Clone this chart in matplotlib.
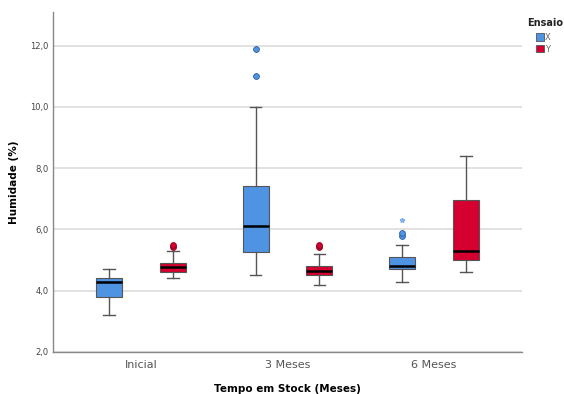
import matplotlib.pyplot as plt
from matplotlib.patches import Patch

# data
categories = ["Inicial", "3 Meses", "6 Meses"]
series = ["X", "Y"]

# (whislo, q1, med, q3, whishi) per category
x_stats = [(3.2, 3.8, 4.3, 4.4, 4.7),
           (4.5, 5.27, 6.1, 7.42, 10.0),
           (4.3, 4.71, 4.8, 5.1, 5.5)]
y_stats = [(4.42, 4.62, 4.78, 4.9, 5.3),
           (4.19, 4.5, 4.65, 4.8, 5.2),
           (4.6, 5.0, 5.3, 6.95, 8.4)]
x_fliers = [[], [11.0, 11.9], [5.8, 5.88]]
y_fliers = [[5.42, 5.5], [5.42, 5.5], []]
x_extremes = [[], [], [6.3]]
y_extremes = [[], [], []]

colors = {"X": "#4f93e3", "Y": "#d5002f"}
edges = {"X": "#2c5d99", "Y": "#8a0020"}

plt.rcParams["font.family"] = "DejaVu Sans"
fig = plt.figure(figsize=(5.64, 3.94), dpi=100)
ax = fig.add_axes([0.094, 0.1066, 0.8315, 0.8629])

offsets = {"X": -0.218, "Y": 0.218}
all_stats = {"X": x_stats, "Y": y_stats}
all_fliers = {"X": x_fliers, "Y": y_fliers}
all_ext = {"X": x_extremes, "Y": y_extremes}

for s in series:
    stats = []
    for st, fl in zip(all_stats[s], all_fliers[s]):
        lo, q1, med, q3, hi = st
        stats.append(dict(whislo=lo, q1=q1, med=med, q3=q3, whishi=hi, fliers=fl))
    pos = [i + offsets[s] for i in range(len(categories))]
    ax.bxp(stats, positions=pos, widths=0.177, capwidths=0.08, patch_artist=True,
           boxprops=dict(facecolor=colors[s], edgecolor="#555555", linewidth=0.8),
           medianprops=dict(color="black", linewidth=1.8),
           whiskerprops=dict(color="#555555", linewidth=1.0),
           capprops=dict(color="#555555", linewidth=1.0),
           flierprops=dict(marker="o", markersize=4.2, markerfacecolor=colors[s],
                           markeredgecolor=edges[s], markeredgewidth=0.6),
           manage_ticks=False, zorder=3)
    for i, ext in enumerate(all_ext[s]):
        if ext:
            ax.plot([i + offsets[s]] * len(ext), ext, linestyle="none", marker="*",
                    markersize=3.5, color="#7fb2ee", zorder=4)

ax.set_xlim(-0.6, 2.6)
ax.set_ylim(2.0, 13.1)
ax.set_yticks([2, 4, 6, 8, 10, 12])
ax.set_yticklabels([f"{v:.1f}".replace(".", ",") for v in [2, 4, 6, 8, 10, 12]],
                   fontsize=6, color="#444444")
ax.set_xticks(range(len(categories)))
ax.set_xticklabels(categories, fontsize=8, color="#555555")
ax.tick_params(axis="both", length=0, pad=3)
ax.tick_params(axis="x", pad=6)

ax.grid(axis="y", color="#dcdcdc", linewidth=1.2)
ax.set_axisbelow(True)
for sp in ["top", "right"]:
    ax.spines[sp].set_visible(False)
for sp in ["left", "bottom"]:
    ax.spines[sp].set_color("#888888")
    ax.spines[sp].set_linewidth(1.0)

ax.set_ylabel("Humidade (%)", fontsize=7.5, fontweight="bold", labelpad=8)
ax.set_xlabel("Tempo em Stock (Meses)", fontsize=7.5, fontweight="bold", labelpad=10)

# legend title drawn separately so the entries sit a bit lower, as in SPSS
fig.text(527 / 564, 1 - 23 / 394, "Ensaio", fontsize=7, fontweight="bold",
         ha="left", va="center", color="#222222")
handles = [Patch(facecolor=colors[s], edgecolor="#555555", linewidth=0.6) for s in series]
leg = fig.legend(handles, series, loc="upper left", bbox_to_anchor=(536 / 564, 1 - 33 / 394),
                 frameon=False, fontsize=6, handlelength=0.9, handleheight=1.0,
                 handletextpad=0.2, labelspacing=0.3, borderpad=0, borderaxespad=0)
for t in leg.get_texts():
    t.set_color("#666666")

fig.savefig("out.png", dpi=100)
